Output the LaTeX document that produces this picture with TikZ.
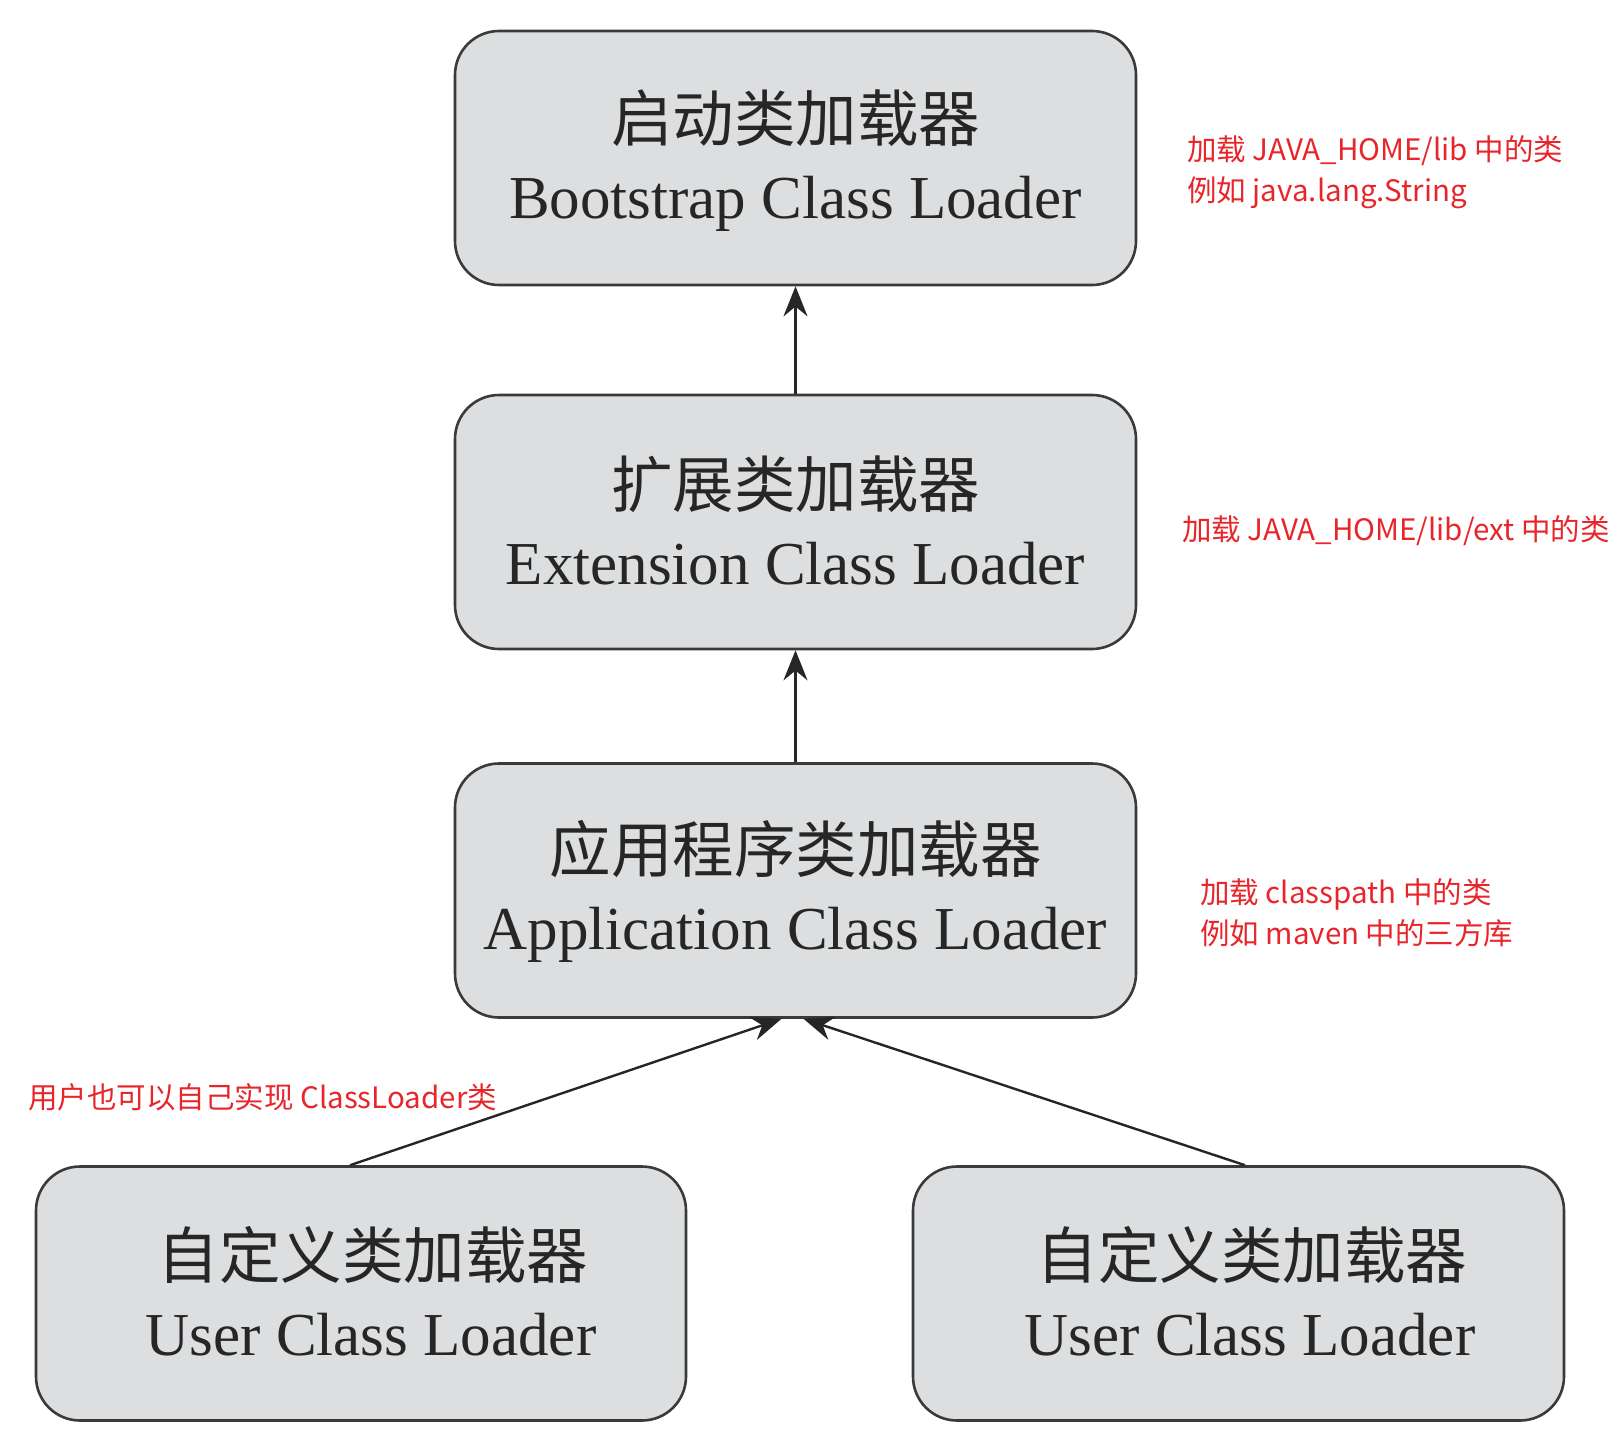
\documentclass[tikz,border=0pt]{standalone}
\usepackage{fontspec}
\setmainfont{Liberation Serif}
\newfontfamily\cjk{Noto Sans CJK SC}
\usetikzlibrary{arrows.meta}
\definecolor{boxfill}{HTML}{DCDEDF}
\definecolor{boxline}{HTML}{3A3A3A}
\definecolor{txt}{HTML}{262626}
\definecolor{notecol}{HTML}{E8252B}
\begin{document}
\begin{tikzpicture}[x=1pt,y=-1pt,
  box/.style={draw=boxline, line width=2.6pt, fill=boxfill, rounded corners=44pt, minimum height=254pt, inner sep=0pt},
  zh/.style={font=\cjk\fontsize{61.5}{63}\selectfont, text=txt, inner sep=0pt, anchor=center},
  en/.style={font=\fontsize{61}{63}\selectfont, text=txt, inner sep=0pt, anchor=base},
  note/.style={font=\cjk\fontsize{29.5}{31}\selectfont, text=notecol, inner sep=0pt, anchor=base west},
  arr/.style={draw=black!85, line width=2.4pt, -{Stealth[length=30pt,width=24pt]}}]
\useasboundingbox (0,0) rectangle (1614,1448);

% boxes
\node[box, minimum width=681pt] (b1) at (795.5,158) {};
\node[box, minimum width=681pt] (b2) at (795.5,522) {};
\node[box, minimum width=681pt] (b3) at (795.5,890.5) {};
\node[box, minimum width=650pt] (b4) at (361,1293.5) {};
\node[box, minimum width=651pt] (b5) at (1238.5,1293.5) {};

% box texts
\node[zh] (z1) at (795.5,118) {启动类加载器};
\node[en] (e1) at (795.5,218) {Bootstrap Class Loader};
\node[zh] (z2) at (795.5,484) {扩展类加载器};
\node[en] (e2) at (795.5,584) {Extension Class Loader};
\node[zh] (z3) at (795.5,849) {应用程序类加载器};
\node[en] (e3) at (795.5,949) {Application Class Loader};
\node[zh] (z4) at (373,1255) {自定义类加载器};
\node[en] (e4) at (371,1355) {User Class Loader};
\node[zh] (z5) at (1252,1255) {自定义类加载器};
\node[en] (e5) at (1250,1355) {User Class Loader};

% connectors
\draw[arr] (b2.north) -- (b1.south);
\draw[arr] (b3.north) -- (b2.south);
\draw[arr] ([xshift=-11pt]b4.north) -- ([xshift=-14pt]b3.south);
\draw[arr] ([xshift=6.5pt]b5.north) -- ([xshift=8pt]b3.south);

% notes
\node[note] (n1a) at (1187,160) {加载 JAVA\_HOME/lib 中的类};
\node[note] (n1b) at (1187,201) {例如 java.lang.String};
\node[note] (n2) at (1182,540) {加载 JAVA\_HOME/lib/ext 中的类};
\node[note] (n3a) at (1200,903) {加载 classpath 中的类};
\node[note] (n3b) at (1200,944) {例如 maven 中的三方库};
\node[note] (n4) at (28,1108) {用户也可以自己实现 ClassLoader类};
\end{tikzpicture}
\end{document}
